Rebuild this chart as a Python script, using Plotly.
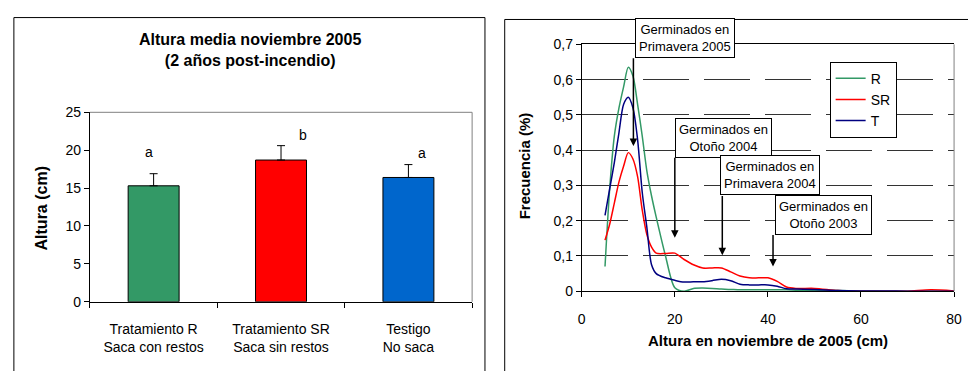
import plotly.graph_objects as go

# ---------------- data ----------------
categories = ["Tratamiento R<br>Saca con restos", "Tratamiento SR<br>Saca sin restos", "Testigo<br>No saca"]
bar_values = [15.3, 18.7, 16.4]
bar_errors = [1.6, 1.9, 1.7]
bar_colors = ["#339966", "#FF0000", "#0066CC"]
sig_letters = ["a", "b", "a"]
sig_heights = [19.8, 22.0, 19.6]

height_x = [5, 6, 7, 8, 9, 10, 11, 12, 13, 14, 15, 16, 18, 20, 22, 24, 26, 28, 30,
            32, 34, 36, 38, 40, 42, 44, 46, 50, 55, 60, 65, 70, 75, 80]
freq_R = [0.07, 0.29, 0.44, 0.52, 0.58, 0.635, 0.61, 0.53, 0.44, 0.34, 0.27, 0.21,
          0.10, 0.01, 0.0, 0.008, 0.009, 0.008, 0.006, 0.005, 0.004, 0.004, 0.004,
          0.004, 0.004, 0.004, 0.003, 0.002, 0.002, 0.001, 0.0, 0.0, 0.0, 0.0]
freq_SR = [0.145, 0.19, 0.25, 0.31, 0.355, 0.393, 0.375, 0.325, 0.23, 0.16, 0.125,
           0.108, 0.107, 0.108, 0.09, 0.075, 0.066, 0.066, 0.066, 0.055, 0.043, 0.038,
           0.038, 0.038, 0.028, 0.012, 0.008, 0.008, 0.002, 0.0, 0.0, 0.0, 0.004, 0.001]
freq_T = [0.215, 0.29, 0.365, 0.45, 0.53, 0.55, 0.52, 0.43, 0.28, 0.18, 0.075, 0.05,
          0.038, 0.031, 0.026, 0.027, 0.027, 0.03, 0.034, 0.03, 0.02, 0.018, 0.018,
          0.018, 0.014, 0.007, 0.006, 0.005, 0.002, 0.001, 0.001, 0.0, 0.0, 0.0]
series_names = ["R", "SR", "T"]
series_colors = ["#339966", "#FF0000", "#000080"]

freq_ticks = [0, 0.1, 0.2, 0.3, 0.4, 0.5, 0.6, 0.7]
freq_ticktext = ["0", "0,1", "0,2", "0,3", "0,4", "0,5", "0,6", "0,7"]

germ_labels = ["Germinados en<br>Primavera 2005", "Germinados en<br>Otoño 2004",
               "Germinados en<br>Primavera 2004", "Germinados en<br>Otoño 2003"]

FONT = "Arial, Liberation Sans, sans-serif"
W, H = 968, 371

def px_x(p):
    return p / W

def px_y(p):
    return 1 - p / H

fig = go.Figure()

# ---------------- left: bars ----------------
xpos = list(range(len(categories)))
fig.add_trace(go.Bar(
    x=xpos, y=bar_values, width=0.4,
    marker=dict(color=bar_colors, line=dict(color="black", width=1)),
    error_y=dict(type="data", array=bar_errors, arrayminus=[0] * len(bar_errors),
                 symmetric=False, color="black", thickness=1, width=4),
    xaxis="x", yaxis="y", showlegend=False, hoverinfo="skip"))

# ---------------- right: frequency curves ----------------
for name, ys, col in zip(series_names, [freq_R, freq_SR, freq_T], series_colors):
    fig.add_trace(go.Scatter(
        x=height_x, y=ys, mode="lines", name=name, legendgroup=name,
        line=dict(color=col, width=1.5, shape="spline", smoothing=0.8),
        xaxis="x2", yaxis="y2"))

annotations = []
# significance letters
offsets = [-0.035, 0.17, 0.11]
for i, (lt, hgt) in enumerate(zip(sig_letters, sig_heights)):
    annotations.append(dict(x=xpos[i] + offsets[i], y=hgt, xref="x", yref="y", text=lt,
                            showarrow=False, xanchor="center", yanchor="middle",
                            font=dict(size=14, color="black", family=FONT)))
# left title
annotations.append(dict(x=px_x(249), y=px_y(43.5), xref="paper", yref="paper",
                        xanchor="center", yanchor="middle",
                        text="<b>Altura media noviembre 2005<br>(2 años post-incendio)</b>",
                        showarrow=False, font=dict(size=16, color="black", family=FONT)))
# axis titles
annotations.append(dict(x=px_x(38), y=px_y(210), xref="paper", yref="paper",
                        xanchor="center", yanchor="middle",
                        text="<b>Altura (cm)</b>", textangle=-90, showarrow=False,
                        font=dict(size=16, color="black", family=FONT)))
annotations.append(dict(x=px_x(527), y=px_y(165), xref="paper", yref="paper",
                        xanchor="center", yanchor="middle",
                        text="<b>Frecuencia (%)</b>", textangle=-90, showarrow=False,
                        font=dict(size=15, color="black", family=FONT)))
annotations.append(dict(x=px_x(774), y=px_y(347), xref="paper", yref="paper",
                        xanchor="center", yanchor="middle",
                        text="<b>Altura en noviembre de 2005 (cm)</b>", showarrow=False,
                        font=dict(size=15, color="black", family=FONT)))

# germination boxes (pixel centres) and arrows
box_px = [(689.5, 31.2), (728.7, 135.5), (775.7, 174.7), (829.5, 216.2)]
arrow_x = [11.1, 20.0, 30.2, 41.1]
arrow_tail = [0.665, 0.383, 0.274, 0.164]
arrow_tip = [0.412, 0.152, 0.102, 0.07]
for lab, (bx, by), axx, ty, hy in zip(germ_labels, box_px, arrow_x, arrow_tail, arrow_tip):
    annotations.append(dict(x=axx, y=hy, ax=axx, ay=ty, xref="x2", yref="y2",
                            axref="x2", ayref="y2", text="", showarrow=True,
                            arrowhead=2, arrowsize=1, arrowwidth=1.5, arrowcolor="black",
                            standoff=0, startstandoff=0))
    annotations.append(dict(x=px_x(bx), y=px_y(by), xref="paper", yref="paper", text=lab,
                            showarrow=False, xanchor="center", yanchor="middle",
                            align="center", bgcolor="white", bordercolor="black",
                            borderwidth=1, borderpad=3,
                            font=dict(size=13, color="black", family=FONT)))

shapes = [
    # panel borders
    dict(type="rect", xref="paper", yref="paper", x0=px_x(10), x1=px_x(487),
         y0=-0.05, y1=px_y(10), line=dict(color="black", width=1), layer="below"),
    dict(type="rect", xref="paper", yref="paper", x0=px_x(507), x1=1.05,
         y0=-0.05, y1=px_y(12), line=dict(color="black", width=1), layer="below"),
    # gray frame of left plot area
    dict(type="line", xref="x domain", yref="y domain", x0=0, x1=1, y0=1, y1=1,
         line=dict(color="#808080", width=1)),
    dict(type="line", xref="x domain", yref="y domain", x0=1, x1=1, y0=0, y1=1,
         line=dict(color="#808080", width=1)),
    # gray right frame of right plot area
    dict(type="line", xref="x2 domain", yref="y2 domain", x0=1, x1=1, y0=0, y1=1,
         line=dict(color="#808080", width=1)),
]

fig.update_layout(
    width=W, height=H, margin=dict(l=0, r=0, t=0, b=0),
    paper_bgcolor="white", plot_bgcolor="white",
    font=dict(family=FONT, size=14, color="black"),
    xaxis=dict(domain=[px_x(87), px_x(474)], range=[-0.5, 2.5],
               tickvals=xpos, ticktext=categories, ticks="", showline=True,
               linecolor="black", linewidth=1, showgrid=False, zeroline=False,
               tickfont=dict(size=14), ticklabelstandoff=14,
               minor=dict(tickmode="array", tickvals=[-0.5, 0.5, 1.5, 2.5],
                          ticks="outside", ticklen=5, tickcolor="black", showgrid=False)),
    yaxis=dict(domain=[px_y(307), px_y(109)], range=[0, 25], dtick=5, ticks="outside",
               ticklen=5, tickcolor="black", showline=True, linecolor="black",
               showgrid=False, zeroline=False, tickfont=dict(size=14)),
    xaxis2=dict(domain=[px_x(585), px_x(962)], range=[0, 80], tickvals=[0, 20, 40, 60, 80],
                ticks="outside", ticklen=5, tickcolor="black", showline=True,
                linecolor="black", mirror=True, showgrid=False, zeroline=False,
                tickfont=dict(size=14), anchor="y2", ticklabelstandoff=10,
                ticklabeloverflow="allow"),
    yaxis2=dict(domain=[px_y(296), px_y(38)], range=[0, 0.7], tickvals=freq_ticks,
                ticktext=freq_ticktext, ticks="outside", ticklen=5, tickcolor="black",
                showline=True, linecolor="black", showgrid=True, gridcolor="#333333",
                gridwidth=1, griddash="46px,15px", zeroline=False,
                tickfont=dict(size=14), anchor="x2"),
    legend=dict(x=px_x(836), y=px_y(56), xanchor="left", yanchor="top",
                bgcolor="white", bordercolor="black", borderwidth=1,
                font=dict(size=14, family=FONT), traceorder="grouped",
                tracegroupgap=0, itemwidth=30),
    annotations=annotations, shapes=shapes,
)

fig.write_html("out.html")
